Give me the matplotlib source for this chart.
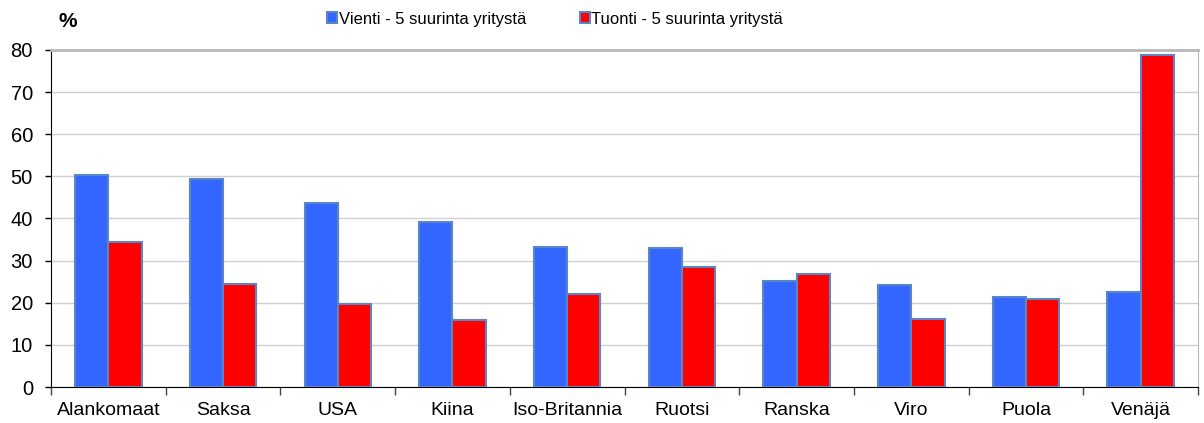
import matplotlib
matplotlib.use("Agg")
import matplotlib.pyplot as plt
import numpy as np

plt.rcParams['font.family'] = ['Liberation Sans', 'DejaVu Sans']

maat = ['Alankomaat', 'Saksa', 'USA', 'Kiina', 'Iso-Britannia',
        'Ruotsi', 'Ranska', 'Viro', 'Puola', 'Venäjä']
vienti = [50.2, 49.4, 43.7, 39.2, 33.2, 33.0, 25.2, 24.1, 21.4, 22.6]
tuonti = [34.5, 24.5, 19.8, 16.0, 22.1, 28.5, 26.8, 16.1, 20.9, 78.8]
y_ticks = [0, 10, 20, 30, 40, 50, 60, 70, 80]

fig = plt.figure(figsize=(12.04, 4.23), dpi=100)
ax = fig.add_axes([0.0424, 0.085, 0.9526, 0.797])

x = np.arange(len(maat))
w = 0.29
edge = '#5a86c8'
ax.bar(x - w / 2, vienti, w, color='#3366ff', edgecolor=edge, linewidth=1.5,
       label='Vienti - 5 suurinta yritystä', zorder=3)
ax.bar(x + w / 2, tuonti, w, color='#ff0000', edgecolor=edge, linewidth=1.5,
       label='Tuonti - 5 suurinta yritystä', zorder=3)

ax.set_xlim(-0.5, len(maat) - 0.5)
ax.set_ylim(0, 80)
ax.set_yticks(y_ticks)
ax.yaxis.grid(True, color='#d0d0d0', linewidth=1, zorder=0)
ax.set_xticks(x)
ax.set_xticklabels(maat)
ax.set_xticks(np.arange(len(maat) + 1) - 0.5, minor=True)
ax.tick_params(axis='x', which='major', length=0, labelsize=14, pad=11)
ax.tick_params(axis='x', which='minor', length=6, width=1, color='#444444')
ax.tick_params(axis='y', labelsize=14.5, length=4, width=1, pad=9)

ax.spines['left'].set_color('black')
ax.spines['bottom'].set_color('black')
ax.spines['top'].set_color('#b8b8b8')
ax.spines['top'].set_linewidth(2)
ax.spines['right'].set_color('#b8b8b8')

fig.text(0.056, 0.948, '%', fontsize=15, fontweight='bold', ha='center', va='center')

leg = fig.legend(loc='center', bbox_to_anchor=(0.461, 0.955), ncol=2, frameon=False,
                 fontsize=12, handlelength=0.6, handleheight=0.6, handletextpad=0.1,
                 columnspacing=3.2)

fig.savefig('out.png', dpi=100)
